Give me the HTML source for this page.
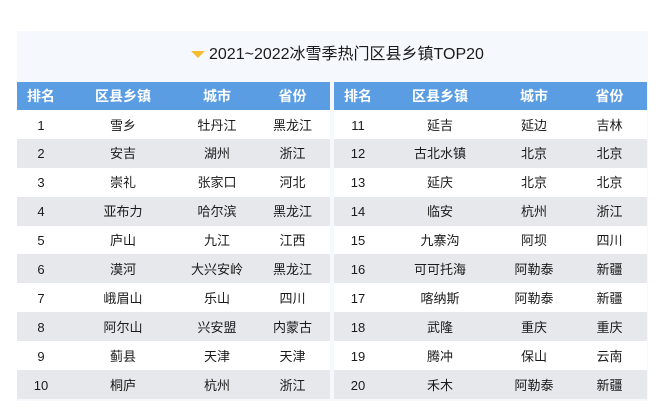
<!DOCTYPE html>
<html><head><meta charset="utf-8">
<style>
*{margin:0;padding:0;box-sizing:border-box}
html,body{width:659px;height:413px;background:#fff;overflow:hidden;font-family:"Liberation Sans","Noto Sans CJK SC",sans-serif}
#panel{position:absolute;left:17px;top:31px;width:631px;height:370px;background:#f5f9fd}
#title{position:absolute;left:209px;top:44px;font-size:16px;line-height:22px;color:#1a1a1a;white-space:nowrap}
#tri{position:absolute;left:191px;top:51px;width:0;height:0;border-left:7.5px solid transparent;border-right:7.5px solid transparent;border-top:7px solid #f6bd2f}
.tbl{position:absolute;top:81.5px;width:313px}
.hdr{position:relative;height:28.5px;background:#5a9de3;color:#fff;font-weight:bold;font-size:14px}
.row{position:relative;height:28.9px;background:#fff;color:#1a1a1a;font-size:13px}
.row.g{background:#e7e8eb}
.c{position:absolute;top:0;width:100px;text-align:center;white-space:nowrap}
.hdr .c{line-height:28.5px}
.row .c{line-height:28.9px;top:1.5px}
.c1{left:-26px}.c2{left:56px}.c3{left:150px}.c4{left:225.5px}
</style></head><body>
<div id="panel"></div>
<div id="tri"></div>
<div id="title">2021~2022冰雪季热门区县乡镇TOP20</div>

<div class="tbl" style="left:17px">
<div class="hdr"><div class="c c1">排名</div><div class="c c2">区县乡镇</div><div class="c c3">城市</div><div class="c c4">省份</div></div>
<div class="row"><div class="c c1">1</div><div class="c c2">雪乡</div><div class="c c3">牡丹江</div><div class="c c4">黑龙江</div></div>
<div class="row g"><div class="c c1">2</div><div class="c c2">安吉</div><div class="c c3">湖州</div><div class="c c4">浙江</div></div>
<div class="row"><div class="c c1">3</div><div class="c c2">崇礼</div><div class="c c3">张家口</div><div class="c c4">河北</div></div>
<div class="row g"><div class="c c1">4</div><div class="c c2">亚布力</div><div class="c c3">哈尔滨</div><div class="c c4">黑龙江</div></div>
<div class="row"><div class="c c1">5</div><div class="c c2">庐山</div><div class="c c3">九江</div><div class="c c4">江西</div></div>
<div class="row g"><div class="c c1">6</div><div class="c c2">漠河</div><div class="c c3">大兴安岭</div><div class="c c4">黑龙江</div></div>
<div class="row"><div class="c c1">7</div><div class="c c2">峨眉山</div><div class="c c3">乐山</div><div class="c c4">四川</div></div>
<div class="row g"><div class="c c1">8</div><div class="c c2">阿尔山</div><div class="c c3">兴安盟</div><div class="c c4">内蒙古</div></div>
<div class="row"><div class="c c1">9</div><div class="c c2">蓟县</div><div class="c c3">天津</div><div class="c c4">天津</div></div>
<div class="row g"><div class="c c1">10</div><div class="c c2">桐庐</div><div class="c c3">杭州</div><div class="c c4">浙江</div></div>
</div>

<div class="tbl" style="left:334px">
<div class="hdr"><div class="c c1">排名</div><div class="c c2">区县乡镇</div><div class="c c3">城市</div><div class="c c4">省份</div></div>
<div class="row"><div class="c c1">11</div><div class="c c2">延吉</div><div class="c c3">延边</div><div class="c c4">吉林</div></div>
<div class="row g"><div class="c c1">12</div><div class="c c2">古北水镇</div><div class="c c3">北京</div><div class="c c4">北京</div></div>
<div class="row"><div class="c c1">13</div><div class="c c2">延庆</div><div class="c c3">北京</div><div class="c c4">北京</div></div>
<div class="row g"><div class="c c1">14</div><div class="c c2">临安</div><div class="c c3">杭州</div><div class="c c4">浙江</div></div>
<div class="row"><div class="c c1">15</div><div class="c c2">九寨沟</div><div class="c c3">阿坝</div><div class="c c4">四川</div></div>
<div class="row g"><div class="c c1">16</div><div class="c c2">可可托海</div><div class="c c3">阿勒泰</div><div class="c c4">新疆</div></div>
<div class="row"><div class="c c1">17</div><div class="c c2">喀纳斯</div><div class="c c3">阿勒泰</div><div class="c c4">新疆</div></div>
<div class="row g"><div class="c c1">18</div><div class="c c2">武隆</div><div class="c c3">重庆</div><div class="c c4">重庆</div></div>
<div class="row"><div class="c c1">19</div><div class="c c2">腾冲</div><div class="c c3">保山</div><div class="c c4">云南</div></div>
<div class="row g"><div class="c c1">20</div><div class="c c2">禾木</div><div class="c c3">阿勒泰</div><div class="c c4">新疆</div></div>
</div>
</body></html>
